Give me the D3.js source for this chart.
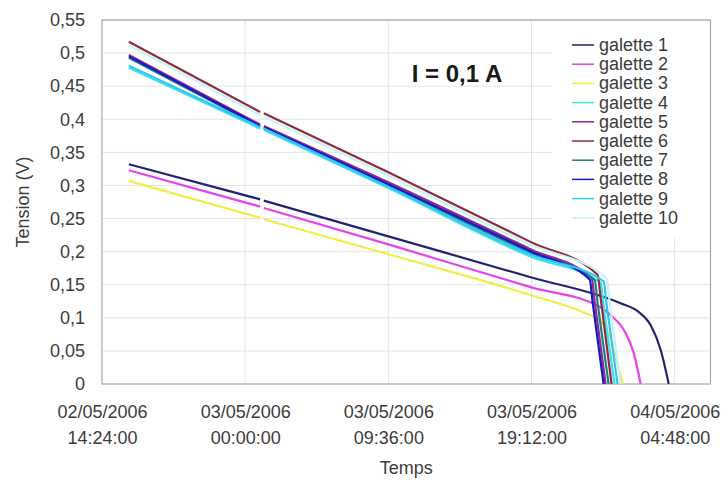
<!DOCTYPE html>
<html><head><meta charset="utf-8">
<script src="https://cdn.jsdelivr.net/npm/d3@7"></script>
<style>
html,body{margin:0;padding:0;background:#fff;}
svg{display:block;font-family:"Liberation Sans",Arial,sans-serif;}
</style></head><body>
<svg id="chart" width="724" height="480"></svg>
<script>
// ---------- DATA ----------
const seriesNames = ["galette 1","galette 2","galette 3","galette 4","galette 5","galette 6","galette 7","galette 8","galette 9","galette 10"];

const t_g1 = ["02/05/2006 16:12","03/05/2006 01:00","03/05/2006 01:08","03/05/2006 01:15","03/05/2006 09:36","03/05/2006 19:12","04/05/2006 01:10","04/05/2006 02:19","04/05/2006 03:11","04/05/2006 03:52","04/05/2006 04:24"];
const v_g1 = [0.332,0.279,null,0.277,0.223,0.161,0.122,0.110,0.089,0.051,0];

const t_g2 = ["02/05/2006 16:12","03/05/2006 01:00","03/05/2006 01:08","03/05/2006 01:15","03/05/2006 09:36","03/05/2006 19:12","03/05/2006 23:50","04/05/2006 00:30","04/05/2006 01:23","04/05/2006 02:03","04/05/2006 02:31"];
const v_g2 = [0.323,0.268,null,0.266,0.211,0.146,0.116,0.104,0.082,0.047,0];

const t_g3 = ["02/05/2006 16:12","03/05/2006 01:00","03/05/2006 01:08","03/05/2006 01:15","03/05/2006 09:36","03/05/2006 19:12","03/05/2006 22:42","03/05/2006 23:50","04/05/2006 00:30","04/05/2006 00:58","04/05/2006 01:19"];
const v_g3 = [0.307,0.251,null,0.249,0.196,0.134,0.108,0.095,0.070,0.030,0];

const t_g4 = ["02/05/2006 16:12","03/05/2006 01:00","03/05/2006 01:08","03/05/2006 01:15","03/05/2006 09:36","03/05/2006 19:12","03/05/2006 23:50","04/05/2006 00:02","04/05/2006 00:46"];
const v_g4 = [0.478,0.386,null,0.384,0.296,0.192,0.153,0.118,0];

const t_g5 = ["02/05/2006 16:12","03/05/2006 01:00","03/05/2006 01:08","03/05/2006 01:15","03/05/2006 09:36","03/05/2006 19:12","03/05/2006 23:14","03/05/2006 23:26","04/05/2006 00:10"];
const v_g5 = [0.497,0.392,null,0.390,0.305,0.203,0.160,0.125,0];

const t_g6 = ["02/05/2006 16:12","03/05/2006 01:00","03/05/2006 01:08","03/05/2006 01:15","03/05/2006 09:36","03/05/2006 19:12","03/05/2006 23:38","03/05/2006 23:50","04/05/2006 00:34"];
const v_g6 = [0.517,0.411,null,0.409,0.320,0.214,0.165,0.130,0];

const t_g7 = ["02/05/2006 16:12","03/05/2006 01:00","03/05/2006 01:08","03/05/2006 01:15","03/05/2006 09:36","03/05/2006 19:12","03/05/2006 23:26","03/05/2006 23:38","04/05/2006 00:22"];
const v_g7 = [0.493,0.389,null,0.387,0.300,0.198,0.157,0.122,0];

const t_g8 = ["02/05/2006 16:12","03/05/2006 01:00","03/05/2006 01:08","03/05/2006 01:15","03/05/2006 09:36","03/05/2006 19:12","03/05/2006 23:06","03/05/2006 23:18","04/05/2006 00:02"];
const v_g8 = [0.495,0.390,null,0.388,0.302,0.200,0.158,0.123,0];

const t_g9 = ["02/05/2006 16:12","03/05/2006 01:00","03/05/2006 01:08","03/05/2006 01:15","03/05/2006 09:36","03/05/2006 19:12","04/05/2006 00:02","04/05/2006 00:14","04/05/2006 00:58"];
const v_g9 = [0.481,0.388,null,0.386,0.298,0.195,0.155,0.120,0];

const t_g10 = ["02/05/2006 16:12","03/05/2006 01:00","03/05/2006 01:08","03/05/2006 01:15","03/05/2006 09:36","03/05/2006 19:12","04/05/2006 00:14","04/05/2006 00:26","04/05/2006 01:10"];
const v_g10 = [0.512,0.406,null,0.404,0.315,0.210,0.160,0.125,0];

const xTickValues = ["02/05/2006 14:24","03/05/2006 00:00","03/05/2006 09:36","03/05/2006 19:12","04/05/2006 04:48"];
const xDomain = ["02/05/2006 14:24","04/05/2006 07:12"];
const yTickValues = [0,0.05,0.1,0.15,0.2,0.25,0.3,0.35,0.4,0.45,0.5,0.55];
const yDomain = [0,0.55];
const annotation = "I = 0,1 A";
const xTitle = "Temps";
const yTitle = "Tension (V)";

// ---------- STYLE ----------
const colors = ["#24246e","#e645e6","#eeee48","#40e0ec","#8c2c8c","#8c2c3c","#1f7f7f","#1818c8","#30c8f0","#c4f2f8"];
const textColor = "#3c3c3c";

// ---------- BUILD ----------
const parse = d3.timeParse("%d/%m/%Y %H:%M");
const allT = [t_g1,t_g2,t_g3,t_g4,t_g5,t_g6,t_g7,t_g8,t_g9,t_g10];
const allV = [v_g1,v_g2,v_g3,v_g4,v_g5,v_g6,v_g7,v_g8,v_g9,v_g10];
const series = seriesNames.map((name,i)=>({name, color: colors[i],
  pts: allT[i].map((t,j)=>({t: parse(t), v: allV[i][j]}))}));

const svg = d3.select("#chart");
const L = 102, R = 710.5, T = 20, B = 384;
const x = d3.scaleTime().domain(xDomain.map(parse)).range([L,R]);
const y = d3.scaleLinear().domain(yDomain).range([B,T]);

// gridlines
svg.append("g").selectAll("line").data(yTickValues.slice(1)).join("line")
  .attr("x1",L).attr("x2",R).attr("y1",d=>y(d)).attr("y2",d=>y(d))
  .attr("stroke","#e4e4e4").attr("stroke-width",1);
svg.append("g").selectAll("line").data(xTickValues.slice(1).map(parse)).join("line")
  .attr("x1",d=>x(d)).attr("x2",d=>x(d)).attr("y1",T).attr("y2",B)
  .attr("stroke","#e4e4e4").attr("stroke-width",1);

// legend background (covers gridlines)
const legX = 552, legY = 21;
svg.append("rect").attr("x",legX).attr("y",legY).attr("width",R-legX-1).attr("height",217).attr("fill","#fff");

// plot frame
svg.append("rect").attr("x",L).attr("y",T).attr("width",R-L).attr("height",B-T)
  .attr("fill","none").attr("stroke","#a8a8a8").attr("stroke-width",1.2);

// lines
const line = d3.line().defined(d=>d.v!==null).x(d=>x(d.t)).y(d=>y(d.v)).curve(d3.curveMonotoneX);
svg.append("g").selectAll("path").data(series).join("path")
  .attr("d",d=>line(d.pts)).attr("fill","none").attr("stroke",d=>d.color)
  .attr("stroke-width",2.2).attr("stroke-linejoin","round");

// y axis
const fmtY = v => String(v).replace(".",",");
const yAxis = d3.axisLeft(y).tickValues(yTickValues).tickFormat(fmtY).tickSize(0).tickPadding(17);
const ya = svg.append("g").attr("transform",`translate(${L},0)`).call(yAxis);
ya.select(".domain").remove();
ya.selectAll("text").attr("fill",textColor).attr("font-size",18).attr("font-family","Liberation Sans, Arial, sans-serif");

// x axis
const xAxis = d3.axisBottom(x).tickValues(xTickValues.map(parse)).tickFormat("").tickSize(0);
const xa = svg.append("g").attr("transform",`translate(0,${B})`).call(xAxis);
xa.select(".domain").remove();
const fD = d3.timeFormat("%d/%m/%Y"), fH = d3.timeFormat("%H:%M:%S");
xa.selectAll(".tick").each(function(d){
  const g = d3.select(this);
  g.selectAll("text").remove();
  const tx = g.append("text").attr("text-anchor","middle").attr("fill",textColor)
    .attr("font-size",18).attr("font-family","Liberation Sans, Arial, sans-serif");
  tx.append("tspan").attr("x",0).attr("y",34).text(fD(d));
  tx.append("tspan").attr("x",0).attr("y",60).text(fH(d));
});

// axis titles
svg.append("text").attr("x",(L+R)/2).attr("y",474).attr("text-anchor","middle")
  .attr("fill",textColor).attr("font-size",18).text(xTitle);
svg.append("text").attr("transform",`translate(29,${(T+B)/2}) rotate(-90)`).attr("text-anchor","middle")
  .attr("fill",textColor).attr("font-size",18).text(yTitle);

// annotation
svg.append("text").attr("x",457).attr("y",82).attr("text-anchor","middle")
  .attr("fill","#1a1a1a").attr("font-size",24).attr("font-weight","bold").text(annotation);

// legend
const leg = svg.append("g").selectAll("g").data(series).join("g")
  .attr("transform",(d,i)=>`translate(0,${45 + i*19.2})`);
leg.append("line").attr("x1",572).attr("x2",594).attr("y1",0).attr("y2",0)
  .attr("stroke",d=>d.color).attr("stroke-width",1.5);
leg.append("text").attr("x",599).attr("y",6).attr("fill",textColor).attr("font-size",18)
  .text(d=>d.name);
</script>
</body></html>
